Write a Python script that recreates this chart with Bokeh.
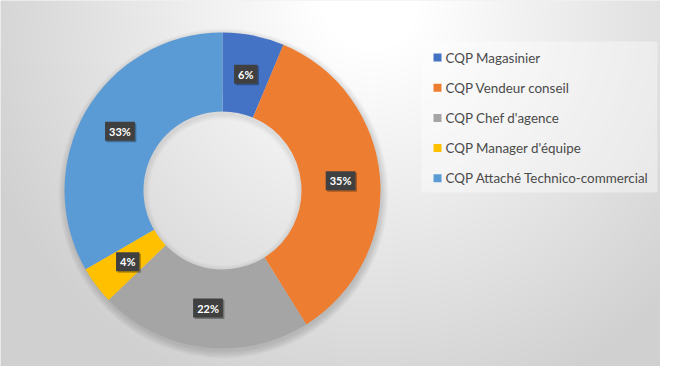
import numpy as np
from bokeh.plotting import figure
from bokeh.models import Range1d, ColumnDataSource
from bokeh.embed import file_html
from bokeh.resources import INLINE
from bokeh.core.properties import value

# ---------------- data ----------------
categories = ["CQP Magasinier", "CQP Vendeur conseil", "CQP Chef d'agence",
              "CQP Manager d'équipe", "CQP Attaché Technico-commercial"]
values = [6.3, 34.8, 21.7, 3.9, 33.3]
colors = ["#4472C4", "#ED7D31", "#A5A5A5", "#FFC000", "#5B9BD5"]

# ---------------- layout (1 data unit = 1 px) ----------------
W, H = 660, 366
FONT = "Lato"

def dx(X):
    return X

def dy(Y):
    return H - Y

p = figure(width=W, height=H, x_range=Range1d(0, W), y_range=Range1d(0, H),
           output_backend="svg", toolbar_location=None, min_border=0)
p.axis.visible = False
p.grid.visible = False
p.outline_line_color = None
p.background_fill_color = "#e6e6e6"
p.border_fill_color = "#e6e6e6"

# background radial gradient
RW, RH = 676, 382
xs = np.arange(RW) + 0.5
ys = np.arange(RH) + 0.5
X, Y = np.meshgrid(xs, ys[::-1])
d = np.sqrt(((X - 370) / 420) ** 2 + (Y / 430) ** 2)
t = np.clip((d - 0.12) / 0.88, 0, 1)
g = (255 - 47 * t).astype(np.uint8)
img = np.empty((RH, RW), dtype=np.uint32)
v = img.view(dtype=np.uint8).reshape((RH, RW, 4))
v[:, :, 0] = g
v[:, :, 1] = g
v[:, :, 2] = g
v[:, :, 3] = 255
p.image_rgba(image=[img], x=0, y=H - RH, dw=RW, dh=RH)

# donut geometry
cx, cy = dx(222), dy(190)
R_OUT, R_IN = 158, 79

# soft outer shadow (rings only, hole stays clear)
for k in range(8):
    p.annular_wedge(x=cx + 1, y=cy - 3, inner_radius=R_IN + 20, outer_radius=R_OUT + 7 - k,
                    start_angle=0, end_angle=2 * np.pi, fill_color="black",
                    fill_alpha=0.018, line_color=None)
# inner shadow of the hole
for k in range(5):
    p.annular_wedge(x=cx, y=cy - 2, inner_radius=R_IN - 6 + k, outer_radius=R_IN + 3,
                    start_angle=0, end_angle=2 * np.pi, fill_color="black",
                    fill_alpha=0.015, line_color=None)

total = float(sum(values))
frac = np.array(values) / total
cum_end = np.cumsum(frac)
cum_start = cum_end - frac
start = np.pi / 2 - 2 * np.pi * cum_start
end = np.pi / 2 - 2 * np.pi * cum_end
mid = np.pi / 2 - 2 * np.pi * (cum_start + frac / 2)
r_mid = (R_IN + R_OUT) / 2
labels = [f"{round(val / total * 100)}%" for val in values]

src = ColumnDataSource(dict(start=start, end=end, color=colors,
                            lx=cx + r_mid * np.cos(mid), ly=cy + r_mid * np.sin(mid),
                            label=labels))
p.annular_wedge(x=cx, y=cy, inner_radius=R_IN, outer_radius=R_OUT,
                start_angle="start", end_angle="end", direction="clock",
                fill_color="color", line_color=None, source=src)

# data labels: shadow + dark box with white bold text
p.text(x="lx", y="ly", text="label", source=src, x_offset=1.5, y_offset=1.5,
       text_align="center", text_baseline="middle", text_font=value(FONT),
       text_font_style="bold", text_font_size="11px", text_alpha=0,
       background_fill_color="black", background_fill_alpha=0.3, padding=(4, 3))
p.text(x="lx", y="ly", text="label", source=src,
       text_align="center", text_baseline="middle", text_font=value(FONT),
       text_font_style="bold", text_font_size="11px", text_color="white",
       background_fill_color="#404040", padding=(4, 3))

# legend (manual)
p.rect(x=dx((421 + 657) / 2), y=dy((41 + 192) / 2), width=236, height=151,
       fill_color="white", fill_alpha=0.4, line_color=None)
leg_y = [dy(57 + 30.2 * i) for i in range(len(categories))]
p.rect(x=[dx(437)] * len(categories), y=leg_y, width=8, height=8,
       fill_color=colors, line_color=None)
p.text(x=[dx(445)] * len(categories), y=leg_y, text=categories,
       text_align="left", text_baseline="middle", text_font=value(FONT),
       text_font_size="13.4px", text_color="#4a4a4a")

open("out.html", "w").write(file_html(p, INLINE))
